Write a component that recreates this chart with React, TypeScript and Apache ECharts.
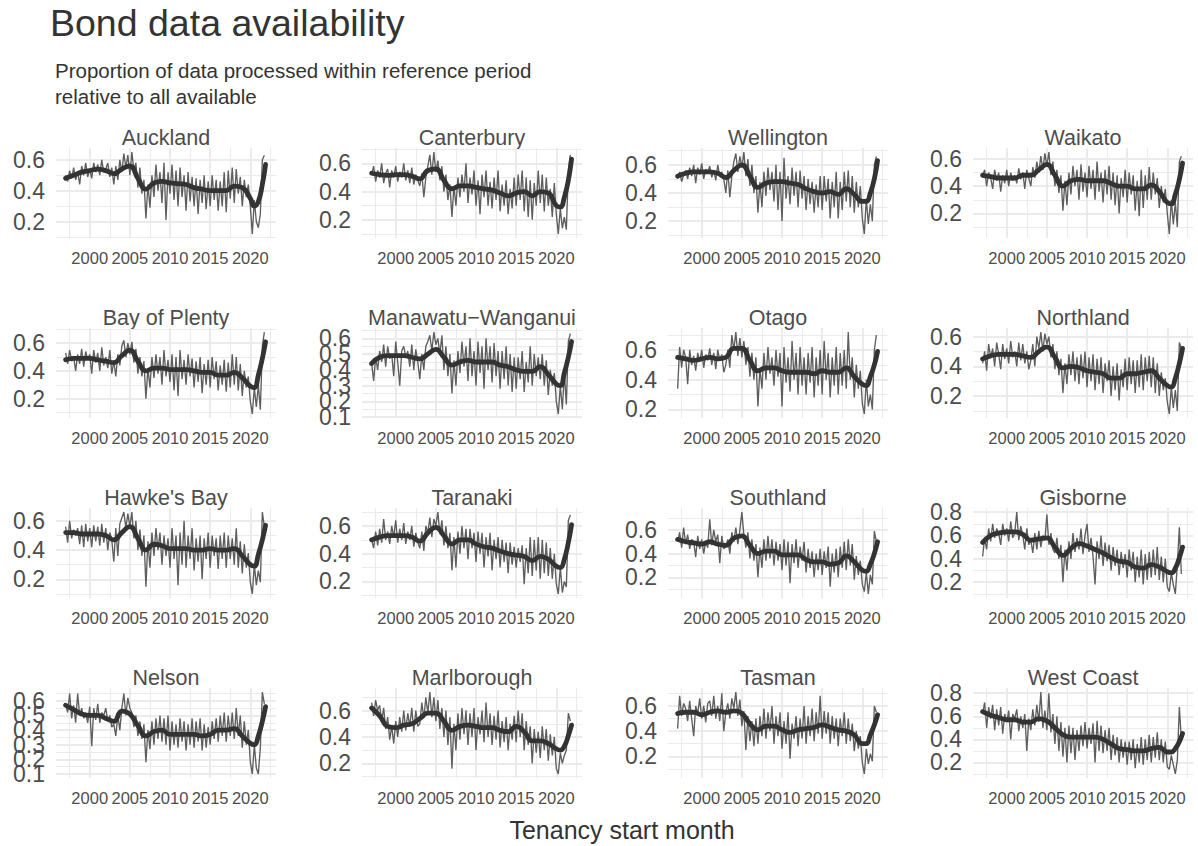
import { useEffect, useRef } from 'react'
import * as echarts from 'echarts'

const FONT = '"Liberation Sans", Arial, Helvetica, sans-serif'

// quarterly tenancy start months, 1997 Q1 .. 2021 Q4 (time index only)
const rawYears = Array.from({ length: 100 }, (_, i) => 1997 + i / 4)
const smoothYears = [
  1997, 1998, 1999, 2000, 2001, 2002, 2003, 2004, 2005, 2006, 2007, 2008,
  2009, 2010, 2011, 2012, 2013, 2014, 2015, 2016, 2017, 2018, 2019, 2020,
  2020.5, 2021, 2021.5, 2021.9,
]

const xBreaks = [2000, 2005, 2010, 2015, 2020]
const xMinorBreaks = [1997.5, 2002.5, 2007.5, 2012.5, 2017.5, 2022.5]
const xLimits = [1995.8, 2023.2]

const ticks246 = [0.2, 0.4, 0.6]
const ticks2468 = [0.2, 0.4, 0.6, 0.8]
const ticksTenths = [0.1, 0.2, 0.3, 0.4, 0.5, 0.6]

const aucklandRaw = [
  0.50, 0.46, 0.53, 0.48, 0.55, 0.47, 0.52, 0.44,
  0.56, 0.50, 0.58, 0.49, 0.54, 0.48, 0.58, 0.52,
  0.57, 0.50, 0.60, 0.52, 0.54, 0.58, 0.49, 0.55,
  0.44, 0.56, 0.47, 0.60, 0.52, 0.64, 0.55, 0.63,
  0.50, 0.65, 0.53, 0.58, 0.42, 0.55, 0.38, 0.47,
  0.22, 0.44, 0.29, 0.50, 0.36, 0.57, 0.40, 0.52,
  0.32, 0.58, 0.21, 0.52, 0.38, 0.57, 0.34, 0.53,
  0.30, 0.55, 0.36, 0.50, 0.27, 0.52, 0.33, 0.49,
  0.30, 0.48, 0.25, 0.47, 0.32, 0.50, 0.28, 0.46,
  0.30, 0.50, 0.34, 0.47, 0.27, 0.46, 0.30, 0.52,
  0.26, 0.53, 0.35, 0.55, 0.32, 0.54, 0.38, 0.49,
  0.30, 0.47, 0.36, 0.44, 0.30, 0.12, 0.34, 0.20,
  0.16, 0.25, 0.60, 0.63,
]
const aucklandSmooth = [
  0.48, 0.50, 0.52, 0.53, 0.54, 0.53, 0.51, 0.54, 0.56, 0.48, 0.41, 0.45,
  0.46, 0.45, 0.445, 0.44, 0.42, 0.41, 0.40, 0.40, 0.40, 0.43, 0.42, 0.35,
  0.30, 0.33, 0.44, 0.57,
]

const canterburyRaw = [
  0.52, 0.58, 0.47, 0.55, 0.50, 0.60, 0.46, 0.53,
  0.56, 0.43, 0.55, 0.50, 0.58, 0.47, 0.54, 0.50,
  0.60, 0.48, 0.55, 0.46, 0.57, 0.45, 0.52, 0.48,
  0.44, 0.53, 0.36, 0.50, 0.58, 0.66, 0.52, 0.68,
  0.54, 0.62, 0.48, 0.58, 0.40, 0.52, 0.34, 0.45,
  0.22, 0.44, 0.30, 0.50, 0.36, 0.52, 0.40, 0.60,
  0.32, 0.50, 0.38, 0.55, 0.30, 0.48, 0.24, 0.52,
  0.36, 0.55, 0.30, 0.47, 0.28, 0.50, 0.34, 0.55,
  0.26, 0.45, 0.30, 0.48, 0.24, 0.42, 0.28, 0.50,
  0.30, 0.52, 0.34, 0.55, 0.26, 0.50, 0.22, 0.48,
  0.20, 0.46, 0.30, 0.55, 0.32, 0.52, 0.26, 0.50,
  0.30, 0.42, 0.22, 0.46, 0.24, 0.10, 0.28, 0.14,
  0.22, 0.13, 0.55, 0.66,
]
const canterburySmooth = [
  0.53, 0.52, 0.515, 0.52, 0.52, 0.51, 0.49, 0.55, 0.56, 0.48, 0.42, 0.44,
  0.44, 0.43, 0.42, 0.41, 0.39, 0.37, 0.39, 0.40, 0.37, 0.40, 0.39, 0.30,
  0.29, 0.36, 0.48, 0.63,
]

const wellingtonRaw = [
  0.50, 0.55, 0.48, 0.53, 0.56, 0.50, 0.58, 0.52,
  0.60, 0.47, 0.58, 0.53, 0.61, 0.50, 0.57, 0.55,
  0.59, 0.51, 0.56, 0.49, 0.60, 0.52, 0.55, 0.50,
  0.40, 0.56, 0.37, 0.52, 0.62, 0.68, 0.55, 0.66,
  0.58, 0.69, 0.52, 0.64, 0.45, 0.60, 0.40, 0.52,
  0.26, 0.48, 0.30, 0.55, 0.38, 0.58, 0.42, 0.55,
  0.34, 0.60, 0.28, 0.55, 0.20, 0.65, 0.36, 0.52,
  0.32, 0.58, 0.38, 0.55, 0.30, 0.56, 0.36, 0.52,
  0.28, 0.50, 0.32, 0.48, 0.26, 0.46, 0.30, 0.52,
  0.28, 0.52, 0.34, 0.50, 0.22, 0.48, 0.30, 0.55,
  0.22, 0.48, 0.28, 0.55, 0.34, 0.56, 0.30, 0.52,
  0.26, 0.48, 0.30, 0.45, 0.22, 0.11, 0.36, 0.18,
  0.32, 0.20, 0.60, 0.66,
]
const wellingtonSmooth = [
  0.52, 0.54, 0.55, 0.55, 0.55, 0.54, 0.51, 0.56, 0.60, 0.52, 0.44, 0.47,
  0.48, 0.48, 0.47, 0.46, 0.43, 0.41, 0.40, 0.41, 0.39, 0.43, 0.39, 0.34,
  0.34, 0.40, 0.50, 0.63,
]

const waikatoRaw = [
  0.48, 0.52, 0.40, 0.50, 0.46, 0.38, 0.52, 0.44,
  0.50, 0.36, 0.48, 0.42, 0.52, 0.40, 0.50, 0.44,
  0.48, 0.42, 0.53, 0.45, 0.50, 0.38, 0.52, 0.46,
  0.40, 0.54, 0.46, 0.58, 0.50, 0.62, 0.52, 0.64,
  0.55, 0.65, 0.48, 0.58, 0.40, 0.52, 0.35, 0.48,
  0.22, 0.44, 0.26, 0.50, 0.34, 0.55, 0.40, 0.52,
  0.30, 0.56, 0.36, 0.50, 0.32, 0.55, 0.38, 0.52,
  0.30, 0.58, 0.36, 0.50, 0.28, 0.52, 0.34, 0.55,
  0.30, 0.50, 0.26, 0.48, 0.20, 0.46, 0.32, 0.52,
  0.28, 0.50, 0.34, 0.48, 0.22, 0.44, 0.18, 0.52,
  0.24, 0.48, 0.30, 0.54, 0.30, 0.50, 0.34, 0.46,
  0.24, 0.40, 0.28, 0.38, 0.20, 0.05, 0.30, 0.12,
  0.28, 0.10, 0.58, 0.62,
]
const waikatoSmooth = [
  0.48, 0.47, 0.46, 0.46, 0.46, 0.48, 0.48, 0.52, 0.56, 0.48, 0.40, 0.44,
  0.45, 0.44, 0.44, 0.44, 0.42, 0.40, 0.40, 0.38, 0.38, 0.41, 0.36, 0.28,
  0.27, 0.34, 0.45, 0.57,
]

const bayOfPlentyRaw = [
  0.53, 0.45, 0.55, 0.47, 0.50, 0.40, 0.52, 0.45,
  0.56, 0.43, 0.54, 0.48, 0.52, 0.38, 0.55, 0.46,
  0.53, 0.40, 0.57, 0.44, 0.50, 0.42, 0.55, 0.38,
  0.47, 0.36, 0.52, 0.44, 0.58, 0.62, 0.50, 0.60,
  0.52, 0.61, 0.46, 0.56, 0.38, 0.50, 0.36, 0.47,
  0.20, 0.42, 0.28, 0.50, 0.35, 0.52, 0.38, 0.50,
  0.30, 0.55, 0.36, 0.48, 0.32, 0.52, 0.26, 0.50,
  0.22, 0.55, 0.34, 0.48, 0.30, 0.52, 0.36, 0.49,
  0.28, 0.47, 0.32, 0.50, 0.24, 0.45, 0.30, 0.48,
  0.28, 0.50, 0.34, 0.47, 0.26, 0.44, 0.30, 0.48,
  0.25, 0.46, 0.28, 0.52, 0.30, 0.50, 0.26, 0.45,
  0.22, 0.40, 0.28, 0.36, 0.18, 0.09, 0.28, 0.14,
  0.30, 0.12, 0.58, 0.68,
]
const bayOfPlentySmooth = [
  0.48, 0.49, 0.49, 0.49, 0.48, 0.47, 0.46, 0.51, 0.55, 0.47, 0.40, 0.42,
  0.42, 0.41, 0.41, 0.41, 0.40, 0.39, 0.39, 0.37, 0.37, 0.39, 0.35, 0.29,
  0.28, 0.37, 0.49, 0.61,
]

const manawatuRaw = [
  0.44, 0.33, 0.48, 0.40, 0.52, 0.45, 0.56, 0.42,
  0.55, 0.47, 0.50, 0.36, 0.58, 0.45, 0.30, 0.52,
  0.55, 0.48, 0.52, 0.42, 0.56, 0.40, 0.53, 0.45,
  0.34, 0.50, 0.40, 0.55, 0.58, 0.62, 0.52, 0.64,
  0.56, 0.60, 0.50, 0.62, 0.40, 0.55, 0.36, 0.50,
  0.25, 0.46, 0.30, 0.52, 0.38, 0.58, 0.42, 0.55,
  0.33, 0.60, 0.36, 0.52, 0.30, 0.58, 0.38, 0.55,
  0.28, 0.60, 0.40, 0.55, 0.32, 0.57, 0.36, 0.52,
  0.28, 0.52, 0.34, 0.55, 0.30, 0.50, 0.26, 0.48,
  0.28, 0.48, 0.34, 0.52, 0.26, 0.45, 0.32, 0.55,
  0.30, 0.50, 0.36, 0.48, 0.34, 0.50, 0.30, 0.46,
  0.24, 0.40, 0.30, 0.38, 0.20, 0.12, 0.30, 0.15,
  0.38, 0.18, 0.58, 0.63,
]
const manawatuSmooth = [
  0.44, 0.48, 0.49, 0.49, 0.49, 0.48, 0.47, 0.50, 0.53, 0.48, 0.43, 0.45,
  0.46, 0.45, 0.45, 0.45, 0.43, 0.42, 0.40, 0.39, 0.39, 0.42, 0.37, 0.31,
  0.30, 0.38, 0.48, 0.58,
]

const otagoRaw = [
  0.34, 0.62, 0.48, 0.60, 0.55, 0.37, 0.60, 0.50,
  0.56, 0.46, 0.58, 0.52, 0.60, 0.48, 0.57, 0.53,
  0.61, 0.50, 0.58, 0.47, 0.60, 0.53, 0.57, 0.45,
  0.50, 0.60, 0.48, 0.70, 0.60, 0.72, 0.56, 0.68,
  0.55, 0.66, 0.50, 0.62, 0.42, 0.58, 0.40, 0.55,
  0.22, 0.48, 0.34, 0.58, 0.40, 0.62, 0.44, 0.55,
  0.36, 0.60, 0.42, 0.58, 0.22, 0.62, 0.38, 0.55,
  0.32, 0.66, 0.40, 0.58, 0.30, 0.62, 0.36, 0.55,
  0.30, 0.58, 0.38, 0.62, 0.28, 0.55, 0.36, 0.60,
  0.30, 0.66, 0.40, 0.58, 0.28, 0.55, 0.36, 0.62,
  0.30, 0.58, 0.36, 0.60, 0.34, 0.72, 0.40, 0.55,
  0.28, 0.50, 0.34, 0.46, 0.24, 0.17, 0.40, 0.22,
  0.30, 0.20, 0.60, 0.70,
]
const otagoSmooth = [
  0.55, 0.54, 0.53, 0.54, 0.55, 0.54, 0.55, 0.61, 0.61, 0.53, 0.46, 0.48,
  0.48, 0.46, 0.45, 0.45, 0.45, 0.44, 0.46, 0.45, 0.45, 0.48, 0.42, 0.37,
  0.36, 0.42, 0.50, 0.59,
]

const northlandRaw = [
  0.42, 0.50, 0.37, 0.55, 0.46, 0.52, 0.40, 0.56,
  0.48, 0.38, 0.55, 0.45, 0.52, 0.42, 0.57, 0.46,
  0.50, 0.40, 0.56, 0.44, 0.55, 0.42, 0.50, 0.38,
  0.44, 0.55, 0.40, 0.60, 0.52, 0.63, 0.50, 0.62,
  0.55, 0.60, 0.46, 0.55, 0.38, 0.50, 0.34, 0.45,
  0.22, 0.42, 0.28, 0.48, 0.34, 0.50, 0.30, 0.46,
  0.28, 0.48, 0.32, 0.50, 0.26, 0.46, 0.30, 0.48,
  0.24, 0.45, 0.28, 0.46, 0.22, 0.42, 0.30, 0.44,
  0.20, 0.40, 0.24, 0.42, 0.17, 0.38, 0.26, 0.45,
  0.24, 0.46, 0.28, 0.44, 0.22, 0.44, 0.26, 0.48,
  0.24, 0.46, 0.30, 0.47, 0.26, 0.46, 0.22, 0.42,
  0.20, 0.36, 0.24, 0.32, 0.16, 0.08, 0.26, 0.12,
  0.24, 0.10, 0.56, 0.52,
]
const northlandSmooth = [
  0.45, 0.47, 0.48, 0.48, 0.48, 0.47, 0.46, 0.50, 0.53, 0.46, 0.39, 0.40,
  0.39, 0.37, 0.36, 0.35, 0.32, 0.32, 0.35, 0.35, 0.36, 0.37, 0.32, 0.27,
  0.26, 0.32, 0.42, 0.52,
]

const hawkesBayRaw = [
  0.56, 0.45, 0.60, 0.48, 0.54, 0.50, 0.55, 0.44,
  0.57, 0.42, 0.58, 0.46, 0.55, 0.42, 0.57, 0.46,
  0.56, 0.43, 0.58, 0.45, 0.55, 0.40, 0.52, 0.47,
  0.32, 0.55, 0.36, 0.58, 0.62, 0.66, 0.55, 0.65,
  0.56, 0.66, 0.48, 0.60, 0.40, 0.54, 0.36, 0.50,
  0.15, 0.46, 0.28, 0.52, 0.36, 0.55, 0.40, 0.52,
  0.30, 0.50, 0.36, 0.48, 0.28, 0.55, 0.34, 0.50,
  0.16, 0.52, 0.30, 0.60, 0.28, 0.50, 0.34, 0.55,
  0.26, 0.48, 0.32, 0.50, 0.20, 0.48, 0.34, 0.52,
  0.28, 0.50, 0.36, 0.48, 0.27, 0.50, 0.34, 0.52,
  0.28, 0.50, 0.34, 0.48, 0.30, 0.55, 0.28, 0.46,
  0.24, 0.44, 0.28, 0.38, 0.18, 0.10, 0.30, 0.16,
  0.26, 0.18, 0.66, 0.56,
]
const hawkesBaySmooth = [
  0.52, 0.52, 0.51, 0.51, 0.51, 0.50, 0.47, 0.52, 0.56, 0.48, 0.40, 0.44,
  0.43, 0.41, 0.41, 0.41, 0.40, 0.40, 0.41, 0.40, 0.40, 0.41, 0.36, 0.30,
  0.29, 0.37, 0.47, 0.57,
]

const taranakiRaw = [
  0.50, 0.44, 0.56, 0.46, 0.58, 0.48, 0.65, 0.50,
  0.56, 0.47, 0.60, 0.52, 0.64, 0.48, 0.58, 0.50,
  0.62, 0.47, 0.56, 0.50, 0.60, 0.45, 0.55, 0.48,
  0.44, 0.56, 0.42, 0.60, 0.55, 0.66, 0.52, 0.65,
  0.60, 0.70, 0.54, 0.64, 0.46, 0.60, 0.44, 0.55,
  0.28, 0.52, 0.30, 0.56, 0.40, 0.60, 0.44, 0.58,
  0.36, 0.58, 0.44, 0.55, 0.34, 0.56, 0.40, 0.55,
  0.30, 0.52, 0.38, 0.55, 0.28, 0.50, 0.36, 0.52,
  0.30, 0.50, 0.34, 0.48, 0.26, 0.48, 0.32, 0.45,
  0.30, 0.44, 0.34, 0.46, 0.18, 0.44, 0.26, 0.52,
  0.24, 0.50, 0.28, 0.52, 0.22, 0.50, 0.26, 0.48,
  0.24, 0.44, 0.22, 0.40, 0.18, 0.11, 0.30, 0.12,
  0.20, 0.16, 0.64, 0.68,
]
const taranakiSmooth = [
  0.50, 0.52, 0.53, 0.53, 0.53, 0.52, 0.49, 0.55, 0.59, 0.53, 0.47, 0.50,
  0.50, 0.47, 0.45, 0.44, 0.42, 0.40, 0.39, 0.38, 0.35, 0.38, 0.36, 0.31,
  0.30, 0.36, 0.48, 0.61,
]

const southlandRaw = [
  0.50, 0.58, 0.45, 0.62, 0.48, 0.56, 0.44, 0.52,
  0.50, 0.37, 0.55, 0.44, 0.52, 0.40, 0.50, 0.45,
  0.69, 0.47, 0.60, 0.50, 0.56, 0.32, 0.55, 0.44,
  0.46, 0.52, 0.40, 0.58, 0.50, 0.62, 0.48, 0.60,
  0.75, 0.56, 0.45, 0.58, 0.36, 0.52, 0.34, 0.48,
  0.20, 0.45, 0.28, 0.52, 0.34, 0.55, 0.36, 0.52,
  0.30, 0.50, 0.34, 0.48, 0.26, 0.52, 0.30, 0.50,
  0.15, 0.48, 0.32, 0.52, 0.28, 0.46, 0.34, 0.50,
  0.24, 0.44, 0.28, 0.42, 0.20, 0.40, 0.26, 0.44,
  0.22, 0.42, 0.28, 0.46, 0.12, 0.40, 0.24, 0.44,
  0.20, 0.46, 0.28, 0.50, 0.26, 0.52, 0.30, 0.48,
  0.18, 0.38, 0.22, 0.34, 0.14, 0.08, 0.24, 0.06,
  0.22, 0.14, 0.59, 0.50,
]
const southlandSmooth = [
  0.52, 0.50, 0.49, 0.48, 0.50, 0.48, 0.47, 0.53, 0.55, 0.47, 0.40, 0.42,
  0.42, 0.39, 0.39, 0.39, 0.35, 0.33, 0.33, 0.31, 0.32, 0.38, 0.33, 0.26,
  0.25, 0.31, 0.40, 0.50,
]

const gisborneRaw = [
  0.42, 0.58, 0.48, 0.66, 0.55, 0.70, 0.58, 0.66,
  0.62, 0.52, 0.70, 0.60, 0.66, 0.55, 0.72, 0.58,
  0.62, 0.80, 0.56, 0.68, 0.60, 0.48, 0.66, 0.52,
  0.56, 0.45, 0.62, 0.48, 0.64, 0.50, 0.60, 0.56,
  0.78, 0.52, 0.62, 0.48, 0.45, 0.58, 0.40, 0.52,
  0.20, 0.48, 0.30, 0.55, 0.40, 0.62, 0.46, 0.58,
  0.48, 0.66, 0.44, 0.60, 0.70, 0.46, 0.58, 0.42,
  0.18, 0.55, 0.40, 0.60, 0.34, 0.54, 0.38, 0.52,
  0.30, 0.50, 0.34, 0.48, 0.26, 0.46, 0.32, 0.44,
  0.24, 0.48, 0.30, 0.46, 0.20, 0.42, 0.24, 0.48,
  0.18, 0.44, 0.22, 0.46, 0.24, 0.48, 0.26, 0.50,
  0.22, 0.42, 0.20, 0.40, 0.16, 0.12, 0.28, 0.18,
  0.10, 0.35, 0.67, 0.27,
]
const gisborneSmooth = [
  0.54, 0.60, 0.62, 0.63, 0.63, 0.61, 0.56, 0.57, 0.58, 0.50, 0.43, 0.49,
  0.53, 0.51, 0.48, 0.45, 0.41, 0.38, 0.37, 0.33, 0.32, 0.35, 0.33, 0.29,
  0.28, 0.32, 0.41, 0.50,
]

const nelsonRaw = [
  0.58, 0.52, 0.65, 0.48, 0.57, 0.45, 0.65, 0.50,
  0.55, 0.48, 0.52, 0.45, 0.56, 0.29, 0.55, 0.47,
  0.58, 0.45, 0.52, 0.50, 0.55, 0.46, 0.50, 0.42,
  0.44, 0.36, 0.50, 0.40, 0.55, 0.65, 0.50, 0.62,
  0.55, 0.52, 0.42, 0.50, 0.36, 0.46, 0.34, 0.44,
  0.18, 0.40, 0.27, 0.46, 0.30, 0.48, 0.34, 0.50,
  0.32, 0.48, 0.30, 0.50, 0.26, 0.46, 0.30, 0.44,
  0.28, 0.48, 0.32, 0.46, 0.26, 0.44, 0.30, 0.48,
  0.28, 0.46, 0.32, 0.48, 0.26, 0.44, 0.28, 0.42,
  0.30, 0.46, 0.34, 0.48, 0.32, 0.50, 0.36, 0.52,
  0.32, 0.50, 0.36, 0.52, 0.34, 0.55, 0.36, 0.50,
  0.28, 0.46, 0.30, 0.40, 0.18, 0.10, 0.30, 0.14,
  0.10, 0.28, 0.66, 0.58,
]
const nelsonSmooth = [
  0.57, 0.54, 0.51, 0.50, 0.50, 0.48, 0.46, 0.53, 0.51, 0.43, 0.36, 0.39,
  0.40, 0.37, 0.37, 0.37, 0.37, 0.36, 0.37, 0.40, 0.40, 0.41, 0.36, 0.31,
  0.30, 0.36, 0.46, 0.56,
]

const marlboroughRaw = [
  0.66, 0.56, 0.68, 0.60, 0.64, 0.52, 0.62, 0.46,
  0.55, 0.38, 0.48, 0.35, 0.52, 0.40, 0.55, 0.44,
  0.60, 0.45, 0.58, 0.48, 0.62, 0.44, 0.60, 0.48,
  0.50, 0.66, 0.54, 0.70, 0.58, 0.74, 0.55, 0.70,
  0.52, 0.68, 0.46, 0.62, 0.40, 0.60, 0.34, 0.55,
  0.16, 0.50, 0.30, 0.58, 0.38, 0.62, 0.42, 0.60,
  0.34, 0.58, 0.40, 0.62, 0.30, 0.55, 0.42, 0.60,
  0.36, 0.66, 0.40, 0.58, 0.34, 0.56, 0.38, 0.60,
  0.32, 0.52, 0.36, 0.55, 0.30, 0.50, 0.38, 0.56,
  0.36, 0.60, 0.40, 0.58, 0.30, 0.52, 0.34, 0.48,
  0.20, 0.46, 0.28, 0.44, 0.24, 0.48, 0.30, 0.46,
  0.22, 0.42, 0.26, 0.40, 0.16, 0.12, 0.28, 0.20,
  0.26, 0.30, 0.58, 0.52,
]
const marlboroughSmooth = [
  0.62, 0.56, 0.48, 0.47, 0.49, 0.50, 0.54, 0.58, 0.58, 0.52, 0.45, 0.48,
  0.49, 0.48, 0.47, 0.47, 0.45, 0.44, 0.48, 0.44, 0.37, 0.37, 0.35, 0.31,
  0.30, 0.33, 0.41, 0.49,
]

const tasmanRaw = [
  0.42, 0.68, 0.52, 0.62, 0.58, 0.48, 0.64, 0.50,
  0.36, 0.60, 0.54, 0.66, 0.50, 0.60, 0.47, 0.62,
  0.64, 0.52, 0.68, 0.50, 0.60, 0.48, 0.70, 0.40,
  0.55, 0.62, 0.50, 0.66, 0.58, 0.71, 0.52, 0.65,
  0.44, 0.56, 0.25, 0.52, 0.32, 0.48, 0.28, 0.50,
  0.30, 0.52, 0.36, 0.58, 0.34, 0.55, 0.40, 0.60,
  0.30, 0.52, 0.36, 0.55, 0.26, 0.48, 0.30, 0.55,
  0.18, 0.46, 0.34, 0.52, 0.28, 0.50, 0.34, 0.60,
  0.30, 0.52, 0.36, 0.58, 0.32, 0.55, 0.38, 0.68,
  0.34, 0.56, 0.38, 0.55, 0.30, 0.52, 0.34, 0.50,
  0.28, 0.50, 0.36, 0.55, 0.30, 0.50, 0.32, 0.46,
  0.24, 0.40, 0.26, 0.36, 0.15, 0.06, 0.26, 0.14,
  0.22, 0.16, 0.60, 0.55,
]
const tasmanSmooth = [
  0.54, 0.55, 0.55, 0.53, 0.55, 0.56, 0.55, 0.56, 0.54, 0.46, 0.41, 0.44,
  0.44, 0.41, 0.39, 0.41, 0.42, 0.43, 0.45, 0.43, 0.41, 0.40, 0.37, 0.30,
  0.30, 0.37, 0.45, 0.53,
]

const westCoastRaw = [
  0.62, 0.72, 0.50, 0.68, 0.58, 0.70, 0.48, 0.66,
  0.52, 0.68, 0.45, 0.62, 0.55, 0.65, 0.40, 0.62,
  0.58, 0.66, 0.47, 0.60, 0.50, 0.62, 0.30, 0.58,
  0.48, 0.66, 0.52, 0.70, 0.55, 0.81, 0.50, 0.65,
  0.48, 0.80, 0.46, 0.62, 0.36, 0.60, 0.30, 0.55,
  0.25, 0.50, 0.20, 0.52, 0.28, 0.50, 0.22, 0.48,
  0.30, 0.52, 0.34, 0.55, 0.32, 0.50, 0.36, 0.54,
  0.20, 0.56, 0.30, 0.52, 0.28, 0.48, 0.30, 0.50,
  0.22, 0.44, 0.26, 0.42, 0.20, 0.40, 0.24, 0.38,
  0.18, 0.38, 0.22, 0.40, 0.15, 0.36, 0.20, 0.42,
  0.18, 0.40, 0.22, 0.44, 0.20, 0.42, 0.24, 0.46,
  0.22, 0.40, 0.20, 0.38, 0.16, 0.14, 0.26, 0.18,
  0.10, 0.22, 0.68, 0.40,
]
const westCoastSmooth = [
  0.64, 0.61, 0.59, 0.57, 0.57, 0.55, 0.55, 0.58, 0.56, 0.50, 0.44, 0.42,
  0.42, 0.42, 0.42, 0.40, 0.36, 0.32, 0.31, 0.30, 0.30, 0.32, 0.33, 0.29,
  0.29, 0.32, 0.38, 0.45,
]

const panels = [
  { name: 'Auckland', raw: aucklandRaw, smooth: aucklandSmooth, ticks: ticks246 },
  { name: 'Canterbury', raw: canterburyRaw, smooth: canterburySmooth, ticks: ticks246 },
  { name: 'Wellington', raw: wellingtonRaw, smooth: wellingtonSmooth, ticks: ticks246 },
  { name: 'Waikato', raw: waikatoRaw, smooth: waikatoSmooth, ticks: ticks246 },
  { name: 'Bay of Plenty', raw: bayOfPlentyRaw, smooth: bayOfPlentySmooth, ticks: ticks246 },
  { name: 'Manawatu−Wanganui', raw: manawatuRaw, smooth: manawatuSmooth, ticks: ticksTenths },
  { name: 'Otago', raw: otagoRaw, smooth: otagoSmooth, ticks: ticks246 },
  { name: 'Northland', raw: northlandRaw, smooth: northlandSmooth, ticks: ticks246 },
  { name: "Hawke's Bay", raw: hawkesBayRaw, smooth: hawkesBaySmooth, ticks: ticks246 },
  { name: 'Taranaki', raw: taranakiRaw, smooth: taranakiSmooth, ticks: ticks246 },
  { name: 'Southland', raw: southlandRaw, smooth: southlandSmooth, ticks: ticks246 },
  { name: 'Gisborne', raw: gisborneRaw, smooth: gisborneSmooth, ticks: ticks2468 },
  { name: 'Nelson', raw: nelsonRaw, smooth: nelsonSmooth, ticks: ticksTenths },
  { name: 'Marlborough', raw: marlboroughRaw, smooth: marlboroughSmooth, ticks: ticks246 },
  { name: 'Tasman', raw: tasmanRaw, smooth: tasmanSmooth, ticks: ticks246 },
  { name: 'West Coast', raw: westCoastRaw, smooth: westCoastSmooth, ticks: ticks2468 },
]

// facet layout (px)
const colLeft = [56, 362, 668, 973]
const rowTop = [148, 328, 508, 688]
const panelW = 220
const panelH = 90

const GRID = '#EBEBEB'
const TEXT = '#4D4D4D'
const TITLE = '#333333'

// ggplot-style 5% expansion of the data range
function yLimits(values: number[]) {
  const lo = Math.min(...values)
  const hi = Math.max(...values)
  const pad = (hi - lo) * 0.05
  return [lo - pad, hi + pad]
}

function minorOf(ticks: number[], lo: number, hi: number) {
  const step = ticks[1] - ticks[0]
  const out: number[] = []
  for (let k = -1; k < ticks.length; k++) {
    const m = ticks[0] + (k + 0.5) * step
    if (m > lo && m < hi) out.push(m)
  }
  return out
}

function yAxisFor(gridIndex: number, lo: number, hi: number, labels: number[]) {
  return {
    type: 'value',
    gridIndex,
    position: 'left',
    offset: 0,
    min: lo,
    max: hi,
    axisLine: { show: false },
    axisTick: { show: false },
    splitLine: { show: false },
    axisLabel: {
      customValues: labels,
      formatter: (v: number) => v.toFixed(1),
      showMinLabel: true,
      showMaxLabel: true,
      hideOverlap: false,
      color: TEXT,
      fontSize: 23,
      fontFamily: FONT,
      margin: 11,
    },
  }
}

function buildOption() {
  const grids: any[] = []
  const xAxes: any[] = []
  const yAxes: any[] = []
  const extraY: any[] = []
  const series: any[] = []
  const graphics: any[] = []

  panels.forEach((p, i) => {
    const left = colLeft[i % 4]
    const top = rowTop[Math.floor(i / 4)]
    const [lo, hi] = yLimits(p.raw.concat(p.smooth))

    grids.push({ left, top, width: panelW, height: panelH, containLabel: false, outerBoundsMode: 'none' })

    xAxes.push({
      type: 'value',
      gridIndex: i,
      min: xLimits[0],
      max: xLimits[1],
      axisLine: { show: false },
      axisTick: { show: false },
      splitLine: { show: false },
      axisLabel: {
        customValues: xBreaks,
        formatter: (v: number) => String(v),
        showMinLabel: true,
        showMaxLabel: true,
        hideOverlap: false,
        color: TEXT,
        fontSize: 16.5,
        fontFamily: FONT,
        margin: 11,
      },
    })

    // crowded 0.1-step labels are split over two stacked left axes so none get dropped
    if (p.ticks.length > 4) {
      yAxes.push(yAxisFor(i, lo, hi, p.ticks.filter((_, k) => k % 2 === 1)))
      extraY.push(yAxisFor(i, lo, hi, p.ticks.filter((_, k) => k % 2 === 0)))
    } else {
      yAxes.push(yAxisFor(i, lo, hi, p.ticks))
    }

    const vMinor = xMinorBreaks.map((x) => ({ coords: [[x, lo], [x, hi]] }))
    const hMinor = minorOf(p.ticks, lo, hi).map((y) => ({ coords: [[xLimits[0], y], [xLimits[1], y]] }))
    const vMajor = xBreaks.map((x) => ({ coords: [[x, lo], [x, hi]] }))
    const hMajor = p.ticks.map((y) => ({ coords: [[xLimits[0], y], [xLimits[1], y]] }))

    series.push({
      type: 'lines',
      coordinateSystem: 'cartesian2d',
      xAxisIndex: i,
      yAxisIndex: i,
      silent: true,
      z: 1,
      lineStyle: { color: GRID, width: 1, opacity: 1 },
      data: vMinor.concat(hMinor),
    })
    series.push({
      type: 'lines',
      coordinateSystem: 'cartesian2d',
      xAxisIndex: i,
      yAxisIndex: i,
      silent: true,
      z: 1,
      lineStyle: { color: GRID, width: 2, opacity: 1 },
      data: vMajor.concat(hMajor),
    })
    series.push({
      type: 'line',
      xAxisIndex: i,
      yAxisIndex: i,
      silent: true,
      z: 2,
      symbol: 'none',
      showSymbol: false,
      lineStyle: { color: '#5E5E5E', width: 1.35 },
      data: rawYears.map((x, j) => [x, p.raw[j]]),
    })
    series.push({
      type: 'line',
      xAxisIndex: i,
      yAxisIndex: i,
      silent: true,
      z: 3,
      smooth: 0.5,
      symbol: 'none',
      showSymbol: false,
      lineStyle: { color: '#333333', width: 4.8, cap: 'round', join: 'round' },
      data: smoothYears.map((x, j) => [x, p.smooth[j]]),
    })

    graphics.push({
      type: 'text',
      x: left + panelW / 2,
      y: top - 10.5,
      silent: true,
      style: {
        text: p.name,
        fill: TEXT,
        font: `21.5px ${FONT}`,
        textAlign: 'center',
        textVerticalAlign: 'middle',
        align: 'center',
        verticalAlign: 'middle',
      },
    })
  })

  const label = (text: string, x: number, y: number, size: number, color: string, align = 'left') => ({
    type: 'text',
    x,
    y,
    silent: true,
    style: {
      text,
      fill: color,
      font: `${size}px ${FONT}`,
      textAlign: align,
      textVerticalAlign: 'middle',
      align,
      verticalAlign: 'middle',
    },
  })

  graphics.push(label('Bond data availability', 50, 23, 37.5, TITLE))
  graphics.push(label('Proportion of data processed within reference period', 55, 70, 20.5, TITLE))
  graphics.push(label('relative to all available', 55, 96, 20.5, TITLE))
  graphics.push(label('Tenancy start month', 622, 830, 25, TITLE, 'center'))

  return {
    animation: false,
    backgroundColor: '#FFFFFF',
    grid: grids,
    xAxis: xAxes,
    yAxis: yAxes.concat(extraY),
    series,
    graphic: graphics,
  }
}

export default function App() {
  const ref = useRef<HTMLDivElement>(null)

  useEffect(() => {
    if (!ref.current) return
    const chart = echarts.init(ref.current, null, { renderer: 'svg' })
    chart.setOption(buildOption())
    return () => {
      chart.dispose()
    }
  }, [])

  return (
    <div
      ref={ref}
      style={{ position: 'absolute', left: 0, top: 0, width: 1198, height: 846, background: '#FFFFFF' }}
    />
  )
}
